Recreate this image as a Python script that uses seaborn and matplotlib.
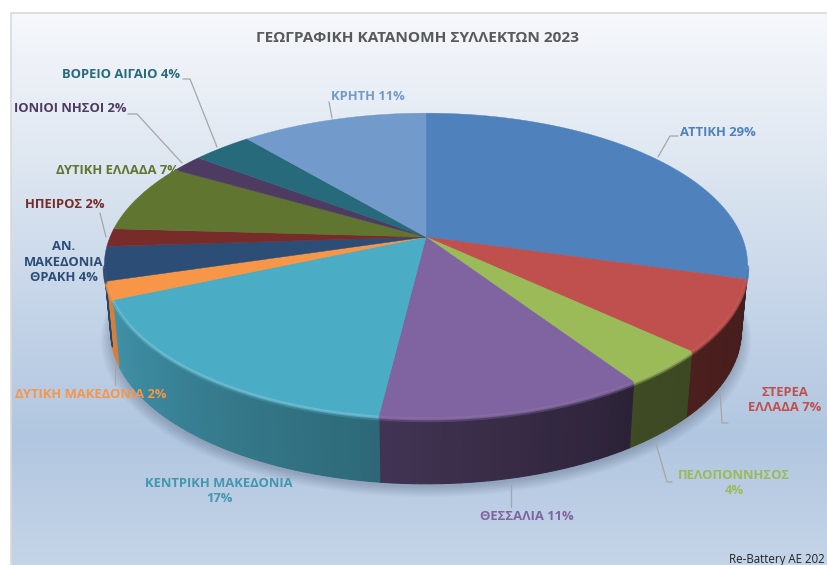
import numpy as np
import matplotlib
matplotlib.use("Agg")
import matplotlib.pyplot as plt
from matplotlib.colors import LinearSegmentedColormap
import seaborn as sns

# regions in chart order, clockwise from 12 o'clock
regions = ["ΑΤΤΙΚΗ", "ΣΤΕΡΕΑ\nΕΛΛΑΔΑ", "ΠΕΛΟΠΟΝΝΗΣΟΣ\n", "ΘΕΣΣΑΛΙΑ", "ΚΕΝΤΡΙΚΗ ΜΑΚΕΔΟΝΙΑ\n", "ΔΥΤΙΚΗ ΜΑΚΕΔΟΝΙΑ",
           "ΑΝ.\nΜΑΚΕΔΟΝΙΑ\nΘΡΑΚΗ", "ΗΠΕΙΡΟΣ", "ΔΥΤΙΚΗ ΕΛΛΑΔΑ", "ΙΟΝΙΟΙ ΝΗΣΟΙ", "ΒΟΡΕΙΟ ΑΙΓΑΙΟ", "ΚΡΗΤΗ"]
shares = [29.4, 7.49, 3.75, 11.3, 16.56, 1.9, 3.6, 1.9, 7.4, 1.9, 3.6, 11.2]
slice_colors = ["#4f81bd", "#c0504d", "#9bbb59", "#8064a2", "#4bacc6", "#f79646",
                "#2c4d75", "#772c2a", "#5f7530", "#4d3b62", "#276a7c", "#729aca"]
text_colors = ["#4f81bd", "#c0504d", "#9bbb59", "#8064a2", "#4198af", "#f79646",
               "#2c4d75", "#772c2a", "#5f7530", "#4d3b62", "#276a7c", "#729aca"]

title = "ΓΕΩΓΡΑΦΙΚΗ ΚΑΤΑΝΟΜΗ ΣΥΛΛΕΚΤΩΝ 2023"
credit = "Re-Battery AE 202"

# label centres and leader lines, in pixels of the 827x565 picture
label_pos = [(718, 132), (785, 400), (734, 483), (527, 517), (219, 491), (91, 394),
             (64, 262), (65, 204), (117, 170), (70, 109), (121, 74), (368, 96)]
leaders = [[(678, 136), (670, 136), (658, 157)],
           [(728, 423), (722, 423), (720, 390)],
           [(672, 482), (667, 482), (655, 440)],
           [(511, 507), (511, 485)],
           [],
           [(115, 385), (115, 360)],
           [],
           [(100, 213), (106, 237)],
           [],
           [(128, 114), (137, 114), (182, 163)],
           [(183, 79), (190, 79), (217, 147)],
           [(329, 102), (332, 118)]]

# pie geometry: a circle seen in perspective
cx, cy = 426, 237
a, b, k = 147, 316, 0.187
depth = 66
wall_scale = 0.98


def project(theta_deg):
    t = np.radians(theta_deg)
    x, y = np.sin(t), np.cos(t)
    w = 1 + k * y
    return b * x / w, -a * y / w


def mix(color, amount):
    # amount < 1 darkens, amount > 1 goes towards white
    c = np.array(color)
    if amount <= 1:
        return tuple(c * amount)
    return tuple(c + (1 - c) * (amount - 1))


sns.set_theme(style="white")
plt.rcParams["font.family"] = ["Open Sans", "DejaVu Sans"]
palette = sns.color_palette(slice_colors)

fig = plt.figure(figsize=(8.27, 5.65), dpi=100)
ax = fig.add_axes([0, 0, 1, 1])
ax.axis("off")

# background gradient
bg = LinearSegmentedColormap.from_list("bg", [(0, "#f6f8fb"), (0.25, "#e0e8f2"), (0.5, "#c8d7e9"),
                                              (0.77, "#b1c6e0"), (1, "#c5d5e8")])
ax.imshow(np.linspace(0, 1, 256)[:, None], cmap=bg, extent=(11, 827, 565, 12), aspect="auto", zorder=0)
ax.set_xlim(0, 827)
ax.set_ylim(565, 0)
ax.plot([10.5, 10.5, 827], [565, 12.5, 12.5], color="#d9d9d9", lw=1.2, zorder=1)

edges = np.concatenate([[0], np.cumsum(shares)]) / sum(shares) * 360

# soft shadow under the pie
th = np.linspace(0, 360, 361)
u, v = project(th)
for i in range(10):
    grow = 1 + i * 0.0035
    ax.fill(cx + u * wall_scale * grow, cy + v * grow + depth + 3 + i * 0.5, color="#1a2a40", alpha=0.022, lw=0, zorder=2)

# side wall, darker towards the right
vis_start, vis_end = 100.8, 259.2
shade_th = [100, 146, 186, 250, 260]
shade_val = [0.36, 0.40, 0.60, 0.86, 0.9]
for i, col in enumerate(palette):
    lo, hi = max(edges[i], vis_start), min(edges[i + 1], vis_end)
    if hi <= lo:
        continue
    steps = np.append(np.arange(lo, hi, 1.5), hi)
    for t0, t1 in zip(steps[:-1], steps[1:]):
        u0, v0 = project(np.array([t0, t1]))
        xs = [cx + u0[0], cx + u0[1], cx + u0[1] * wall_scale, cx + u0[0] * wall_scale]
        ys = [cy + v0[0], cy + v0[1], cy + v0[1] + depth, cy + v0[0] + depth]
        amount = np.interp(0.5 * (t0 + t1), shade_th, shade_val)
        if i == 3:
            amount *= 0.85
        wall_col = mix(col, amount)
        # the edge in the same colour closes the seams between the strips
        ax.fill(xs, ys, facecolor=wall_col, edgecolor=wall_col, lw=0.8, zorder=3)

# top of the pie
for i, col in enumerate(palette):
    t = np.linspace(edges[i], edges[i + 1], 80)
    u, v = project(t)
    ax.fill(np.r_[cx, cx + u], np.r_[cy, cy + v], color=col, lw=0.3, zorder=4)

# light rim along the front edge
for i, col in enumerate(palette):
    lo, hi = max(edges[i], vis_start), min(edges[i + 1], vis_end)
    if hi <= lo:
        continue
    t = np.linspace(lo, hi, 60)
    u, v = project(t)
    ax.plot(cx + u, cy + v + 1, color=mix(col, 1.22 if i == 4 else 1.08), lw=2.2, alpha=0.9,
            solid_capstyle="butt", zorder=5)
    ax.plot(cx + u, cy + v + 3, color=mix(col, 0.88), lw=2.0, alpha=0.5, solid_capstyle="butt", zorder=5)

# leader lines
for pts in leaders:
    if pts:
        ax.plot(*zip(*pts), color="#a6a6a6", lw=0.9, zorder=6)

# labels
for name, share, pos, col in zip(regions, shares, label_pos, text_colors):
    if name.endswith("\n"):
        text = f"{name}{round(share)}%"
    else:
        text = f"{name} {round(share)}%"
    ax.text(pos[0], pos[1], text, color=col, ha="center", va="center", multialignment="center",
            fontsize=9.4, fontweight="bold", linespacing=1.25, zorder=7)

ax.text(417, 38, title, color="#595959", ha="center", va="center", fontsize=11.1, fontweight="bold", zorder=7)
ax.text(729, 559, credit, color="#222222", ha="left", va="center", fontsize=8.3, zorder=7)

fig.savefig("out.png", dpi=100)
